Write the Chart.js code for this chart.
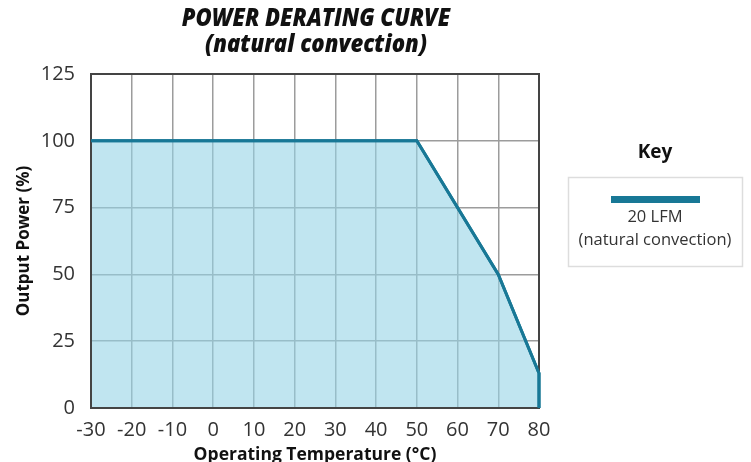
<!DOCTYPE html>
<html>
<head>
<meta charset="utf-8">
<script src="https://cdn.jsdelivr.net/npm/chart.js@4"></script>
<style>
  html, body { margin: 0; padding: 0; background: #fff; }
  #wrap { width: 751px; height: 462px; position: relative; }
</style>
</head>
<body>
<div id="wrap"><canvas id="myChart1" width="751" height="462"></canvas></div>
<script>
// derating curve points (temperature °C, output %)
const temps = [-30, 50, 70, 80, 80];
const power = [100, 100, 50, 13, 0];
const xTicks = [-30, -20, -10, 0, 10, 20, 30, 40, 50, 60, 70, 80];
const yTicks = [0, 25, 50, 75, 100, 125];
const seriesName = ['20 LFM', '(natural convection)'];

var lineColor = 'rgb(24, 120, 150)';
// semi-transparent so the grid shows through like the original
var fillColor = 'rgba(150, 212, 230, 0.6)';
var gridColor = '#9c9c9c';
var font = "'Open Sans', 'Noto Sans', sans-serif";

var points = temps.map(function(t, i) { return {x: t, y: power[i]}; });

// frame round the plot, title and key box
var extras = {
  id: 'extras',
  afterDatasetsDraw: function(chart) {
    var c = chart.ctx;
    var a = chart.chartArea;
    c.save();
    c.strokeStyle = '#444';
    c.lineWidth = 2;
    c.strokeRect(a.left, a.top, a.right - a.left, a.bottom - a.top);
    c.restore();
    // put the curve back on top of the frame
    chart.getDatasetMeta(0).dataset.draw(c, a);
  },
  afterDraw: function(chart) {
    var c = chart.ctx;
    var area = chart.chartArea;
    c.save();
    c.fillStyle = '#111';
    c.textAlign = 'center';
    c.textBaseline = 'middle';
    var cx = (area.left + area.right) / 2;
    c.save();
    c.translate(cx + 1, 0);
    c.scale(0.92, 1);
    c.font = "italic 800 24px " + font;
    c.fillText('POWER DERATING CURVE', 0, 19);
    c.fillText('(natural convection)', 0, 45);
    c.restore();

    // key
    c.font = "bold 19px " + font;
    c.fillText('Key', 655, 153);
    c.strokeStyle = '#ddd';
    c.lineWidth = 1.5;
    c.strokeRect(568.5, 177.5, 174, 89);
    c.fillStyle = lineColor;
    c.fillRect(611, 196, 89, 7);
    c.fillStyle = '#333';
    c.font = "16.5px " + font;
    c.fillText(seriesName[0], 655, 217);
    c.fillText(seriesName[1], 655, 240);
    c.restore();
  }
};

var ctx = document.getElementById('myChart1').getContext('2d');
var myChart = new Chart(ctx, {
  type: 'scatter',
  data: {
    datasets: [{
      label: seriesName.join(' '),
      data: points,
      showLine: true,
      fill: 'origin',
      backgroundColor: fillColor,
      borderColor: lineColor,
      borderWidth: 3,
      pointRadius: 0,
      tension: 0,
      clip: 4
    }]
  },
  options: {
    responsive: false,
    animation: false,
    layout: { padding: { top: 74, right: 212, left: 8, bottom: 0 } },
    plugins: {
      legend: { display: false },
      tooltip: { enabled: false }
    },
    scales: {
      x: {
        type: 'linear',
        min: -30,
        max: 80,
        afterBuildTicks: function(axis) { axis.ticks = xTicks.map(function(v) { return {value: v}; }); },
        afterFit: function(scale) { scale.height = 54; },
        grid: { color: gridColor, lineWidth: 1.5, drawTicks: false },
        border: { display: false },
        ticks: { color: '#333', font: { family: font, size: 20 }, padding: 10, maxRotation: 0 },
        title: { display: true, text: 'Operating Temperature (°C)', color: '#111',
                 font: { family: font, size: 17.5, weight: 'bold' }, padding: { top: 0, bottom: -4 } }
      },
      y: {
        min: 0,
        max: 125,
        afterBuildTicks: function(axis) { axis.ticks = yTicks.map(function(v) { return {value: v}; }); },
        afterFit: function(scale) { scale.width = 83; },
        grid: { color: gridColor, lineWidth: 1.5, drawTicks: false },
        border: { display: false },
        ticks: { color: '#333', font: { family: font, size: 20 }, padding: 16 },
        title: { display: true, text: 'Output Power (%)', color: '#111',
                 font: { family: font, size: 17, weight: 'bold' }, padding: { top: 6, bottom: 0 } }
      }
    }
  },
  plugins: [extras]
});
</script>
</body>
</html>
